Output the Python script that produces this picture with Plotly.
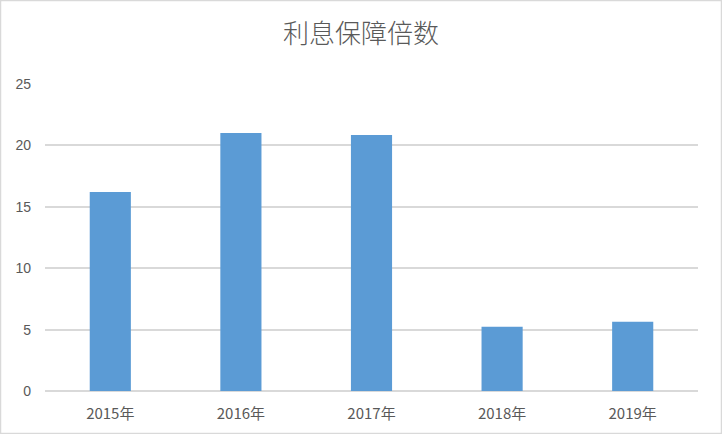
import plotly.graph_objects as go

categories = ["2015年", "2016年", "2017年", "2018年", "2019年"]
values = [16.2, 21.0, 20.85, 5.23, 5.64]
y_ticks = [0, 5, 10, 15, 20, 25]

W, H = 722, 434
ml, mr, mt, mb = 45, 24, 84, 43
pw, ph = W - ml - mr, H - mt - mb

fig = go.Figure(go.Bar(
    x=categories, y=values,
    marker=dict(color="#5B9BD5", line=dict(width=0)),
    width=0.315,
))

fig.update_layout(
    width=W, height=H,
    margin=dict(l=ml, r=mr, t=mt, b=mb),
    paper_bgcolor="white", plot_bgcolor="white",
    title=dict(text="利息保障倍数", x=0.5, xref="container", xanchor="center",
               y=1 - 34 / H, yanchor="middle", yref="container",
               font=dict(family="Noto Sans CJK SC", size=26, weight=300, color="#595959")),
    font=dict(family="Liberation Sans, Noto Sans CJK SC", size=13, color="#595959"),
    showlegend=False,
    xaxis=dict(showgrid=False, showline=False, ticks="", ticklabelstandoff=12,
               tickfont=dict(family="Liberation Sans Narrow, Noto Sans CJK SC", size=15, color="#595959")),
    yaxis=dict(range=[0, 25], tickvals=y_ticks, showgrid=True, gridcolor="#D9D9D9",
               gridwidth=1.5, zeroline=True, zerolinecolor="#D9D9D9", zerolinewidth=1.5,
               showline=False, ticks="", ticklabelstandoff=13,
               tickfont=dict(family="Liberation Sans", size=14, color="#595959")),
    shapes=[dict(type="rect", xref="paper", yref="paper",
                 x0=(-ml + 0.5) / pw, x1=(pw + mr - 0.5) / pw,
                 y0=(-mb + 0.5) / ph, y1=(ph + mt - 0.5) / ph,
                 line=dict(color="#D9D9D9", width=1.5), layer="below")],
)

fig.write_html("out.html", config={"displayModeBar": False},
               post_script="document.body.style.margin='0';document.body.style.padding='0';")
